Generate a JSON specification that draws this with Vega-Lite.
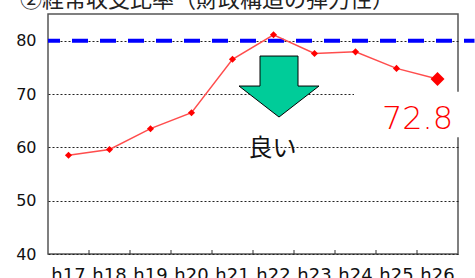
{
  "$schema": "https://vega.github.io/schema/vega-lite/v6.json",
  "autosize": {"type": "none"},
  "padding": {"left": 48, "top": 14, "right": 17, "bottom": 24},
  "width": 410,
  "height": 240,
  "background": "white",
  "title": {
    "text": "②経常収支比率（財政構造の弾力性）",
    "anchor": "start",
    "frame": "group",
    "orient": "top",
    "baseline": "bottom",
    "offset": -20,
    "dx": -28,
    "font": "Noto Sans CJK JP",
    "fontSize": 22,
    "fontWeight": "normal",
    "color": "#222"
  },
  "config": {
    "view": {"stroke": "#555", "strokeWidth": 1.5},
    "axis": {"labelFont": "DejaVu Sans", "labelColor": "#111", "domain": false}
  },
  "encoding": {
    "x": {
      "field": "year", "type": "nominal", "sort": null,
      "scale": {"type": "band", "paddingInner": 0, "paddingOuter": 0,
        "domain": ["h17","h18","h19","h20","h21","h22","h23","h24","h25","h26"]},
      "axis": {"title": null, "labelAngle": 0, "ticks": false, "labelFontSize": 18,
        "labelPadding": 12, "grid": false, "labelBaseline": "top"}
    },
    "y": {
      "field": "value", "type": "quantitative",
      "scale": {"domain": [40, 85], "nice": false, "zero": false},
      "axis": {"title": null, "values": [40, 50, 60, 70, 80], "ticks": false,
        "labelPadding": 12, "labelFontSize": 16, "grid": true, "gridColor": "#222",
        "gridDash": [2, 2], "gridWidth": 1.2}
    }
  },
  "layer": [
    {
      "data": {"values": [{"year": "h25", "value": 70.4, "value2": 61.9}]},
      "mark": {"type": "rect", "color": "white", "width": 105, "xOffset": 10},
      "encoding": {"y2": {"field": "value2"}}
    },
    {
      "data": {"values": [
        {"year": "h18", "base": 40, "top": 40.75},
        {"year": "h19", "base": 40, "top": 40.75},
        {"year": "h20", "base": 40, "top": 40.75},
        {"year": "h21", "base": 40, "top": 40.75},
        {"year": "h22", "base": 40, "top": 40.75},
        {"year": "h23", "base": 40, "top": 40.75},
        {"year": "h24", "base": 40, "top": 40.75},
        {"year": "h25", "base": 40, "top": 40.75},
        {"year": "h26", "base": 40, "top": 40.75}
      ]},
      "mark": {"type": "rule", "color": "#333", "strokeWidth": 1, "xOffset": -20.5},
      "encoding": {"y": {"field": "base", "type": "quantitative"}, "y2": {"field": "top"}}
    },
    {
      "data": {"values": [{"target": 80, "from": "h17", "to": "h26"}]},
      "mark": {"type": "rule", "color": "#0000ff", "strokeWidth": 4, "strokeDash": [16, 12], "strokeDashOffset": 4, "xOffset": -20.5, "x2Offset": 37, "clip": false},
      "encoding": {"y": {"field": "target", "type": "quantitative"}, "x": {"field": "from", "type": "nominal"}, "x2": {"field": "to"}}
    },
    {
      "data": {"name": "series", "values": [
        {"year": "h17", "value": 58.5},
        {"year": "h18", "value": 59.6},
        {"year": "h19", "value": 63.5},
        {"year": "h20", "value": 66.5},
        {"year": "h21", "value": 76.5},
        {"year": "h22", "value": 81.1},
        {"year": "h23", "value": 77.6},
        {"year": "h24", "value": 77.9},
        {"year": "h25", "value": 74.8},
        {"year": "h26", "value": 72.8}
      ]},
      "layer": [
        {"mark": {"type": "line", "color": "#ff4d4d", "strokeWidth": 1.5}},
        {"mark": {"type": "point", "shape": "diamond", "filled": true, "color": "#ff0000", "opacity": 1},
         "encoding": {"size": {"condition": {"test": "datum.year === 'h26'", "value": 196}, "value": 50}}}
      ]
    },
    {
      "data": {"values": [{"year": "h22", "value": 71.4}]},
      "mark": {"type": "point", "shape": "M-0.475,-0.7625L0.475,-0.7625L0.475,-0.0125L1,-0.0125L0,0.7625L-1,-0.0125L-0.475,-0.0125Z",
        "size": 6400, "filled": true, "fill": "#00cc99", "stroke": "#000", "strokeWidth": 1, "opacity": 1, "xOffset": 5.5}
    },
    {
      "data": {"values": [{"year": "h22", "value": 59.7, "label": "良い"}]},
      "mark": {"type": "text", "font": "Noto Sans CJK JP", "fontSize": 24, "color": "#111", "baseline": "middle", "dx": -1},
      "encoding": {"text": {"field": "label"}}
    },
    {
      "data": {"values": [{"year": "h26", "value": 63.4, "label": "72.8"}]},
      "mark": {"type": "text", "font": "DejaVu Sans", "fontSize": 32, "fontWeight": 300, "color": "#ff0000", "baseline": "alphabetic", "dx": -20},
      "encoding": {"text": {"field": "label"}}
    }
  ]
}
